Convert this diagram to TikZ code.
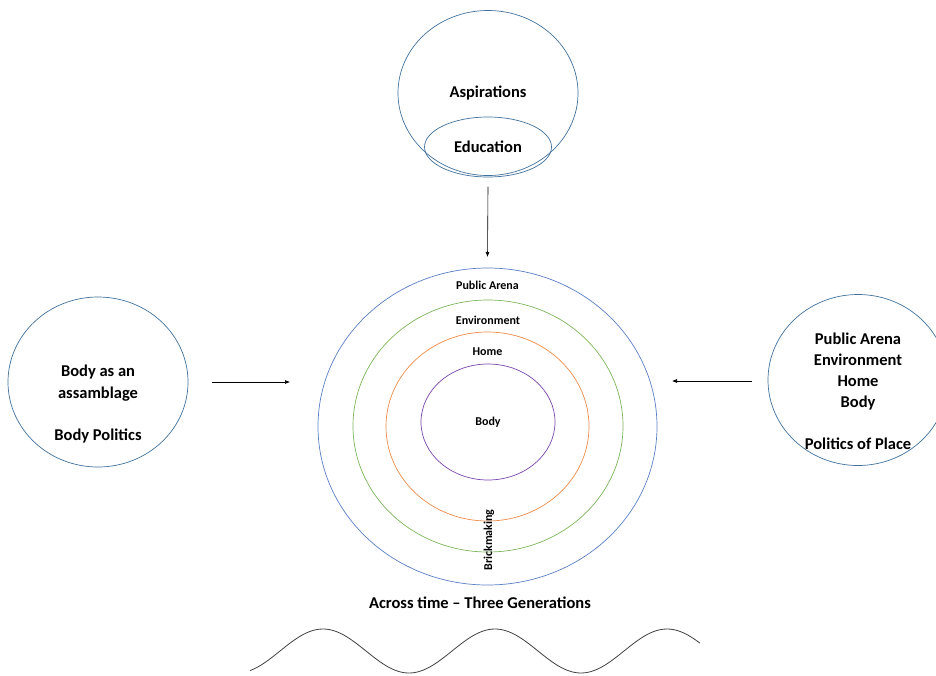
\documentclass[tikz,border=0pt]{standalone}
\usepackage{fontspec}
\setmainfont{Carlito}
\usepackage{xcolor}
\usetikzlibrary{arrows.meta,positioning,shapes.geometric}
\definecolor{shapeline}{HTML}{41719C}
\definecolor{ringblue}{HTML}{5B7FC4}
\definecolor{ringgreen}{HTML}{7DB55A}
\definecolor{ringorange}{HTML}{EE8A48}
\definecolor{ringpurple}{HTML}{7A45A8}

\begin{document}
\begin{tikzpicture}[x=1pt, y=-1pt,
  bubble/.style={ellipse, draw=shapeline, line width=0.7pt, inner sep=0pt, outer sep=0pt},
  ring/.style={ellipse, draw=#1, line width=0.7pt, inner sep=0pt, outer sep=0pt},
  bigtxt/.style={font=\fontsize{16.5}{21}\selectfont\bfseries, align=center, inner sep=0pt},
  ringtxt/.style={font=\fontsize{12}{14}\selectfont\bfseries, inner sep=0pt},
  arr/.style={-{Latex[length=5pt, width=4pt]}, line width=0.6pt}
]
  \useasboundingbox (0,0) rectangle (936,675);

  % top bubble
  \node[bubble, minimum width=180pt, minimum height=165pt, bigtxt] (aspc) at (488,93) {Aspirations};
  \node[bubble, minimum width=127pt, minimum height=60pt, bigtxt] (educ) at (488,147) {Education};

  % concentric rings
  \node[ring=ringblue, minimum width=339pt, minimum height=317pt] (arena) at (487.5,426.5) {};
  \node[ring=ringgreen, minimum width=270pt, minimum height=252pt] (envr) at (488,426) {};
  \node[ring=ringorange, minimum width=203pt, minimum height=189pt] (home) at (487.5,426.5) {};
  \node[ring=ringpurple, minimum width=134pt, minimum height=116pt] (body) at (488,422) {};

  \node[ringtxt] (larena) at ([yshift=-17]arena.north) {Public Arena};
  \node[ringtxt] (lenvr) at ([yshift=-20]envr.north) {Environment};
  \node[ringtxt] (lhome) at ([yshift=-20]home.north) {Home};
  \node[ringtxt] (lbody) at (body) {Body};
  \node[ringtxt, rotate=90] (brick) at (489,540) {Brickmaking};

  % side bubbles
  \node[bubble, minimum width=180pt, minimum height=170pt] (bodyc) at (98,382) {};
  \node[bigtxt] (bodyt) at (98,404) {Body as an\\assamblage\\[21pt]Body Politics};
  \node[bubble, minimum width=180pt, minimum height=171pt] (placec) at (858,380) {};
  \node[bigtxt] (placet) at (858,391) {Public Arena\\Environment\\Home\\Body\\[21pt]Politics of Place};

  \coordinate (lend) at (bodyc.east -| arena.west);
  \coordinate (rend) at ([yshift=-1]placec.west -| arena.east);

  \draw[arr] ([yshift=-11]aspc.south) -- ([yshift=11]arena.north);
  \draw[arr] ([xshift=24]bodyc.east) -- ([xshift=-28]lend);
  \draw[arr] ([xshift=-16,yshift=-1]placec.west) -- ([xshift=15]rend);

  \node[bigtxt] (time) at (480,603) {Across time -- Three Generations};

  % generations wave
  \draw[line width=0.8pt, black!75] plot[domain=250:700, samples=150, smooth]
    (\x, {651 - 22*cos(2.093*(\x-323))});
\end{tikzpicture}
\end{document}
